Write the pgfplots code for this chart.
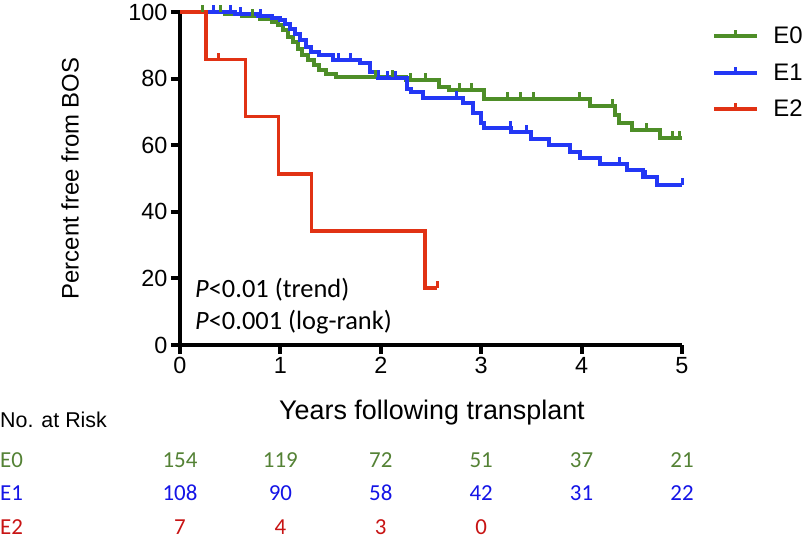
\documentclass[border=0pt]{standalone}
\usepackage{fontspec}
\setmainfont{Liberation Sans}
\newfontfamily\calibri{Carlito}
\usepackage{pgfplots}
\pgfplotsset{compat=1.18}
\definecolor{cE0}{RGB}{78,142,40}
\definecolor{cE1}{RGB}{35,55,245}
\definecolor{cE2}{RGB}{225,50,20}
\definecolor{tE0}{RGB}{84,130,53}
\definecolor{tE1}{RGB}{20,20,230}
\definecolor{tE2}{RGB}{200,20,20}
\pgfdeclareplotmark{cens}{\pgfpathmoveto{\pgfpointorigin}\pgfpathlineto{\pgfpoint{0pt}{7bp}}\pgfusepathqstroke}
\begin{document}
\begin{tikzpicture}
\path[use as bounding box] (0,0) rectangle (810bp,544bp);
\begin{axis}[
 at={(180bp,199bp)}, anchor=south west,
 scale only axis, width=502bp, height=333bp,
 xmin=0, xmax=5, ymin=0, ymax=100,
 axis x line=bottom, axis y line=left,
 axis line style={-, line width=4.5bp},
 xtick={0,1,2,3,4,5}, ytick={0,20,40,60,80,100},
 tick align=outside, major tick length=9bp,
 every tick/.style={black, line width=4bp},
 tick label style={font=\fontsize{23.5}{27}\selectfont},
 /pgf/number format/assume math mode=true,
 xlabel={Years following transplant},
 ylabel={Percent free from BOS},
 xlabel style={font=\fontsize{27}{32}\selectfont, at={(axis description cs:0.502,-0.2042)}, anchor=center},
 ylabel style={font=\fontsize{24}{28}\selectfont, at={(axis description cs:-0.219,0.5)}, anchor=center},
 clip=false,
 legend style={at={(1.06,0.961)}, anchor=north west, draw=none, fill=none,
   font=\fontsize{24}{29}\selectfont, row sep=14.5bp, inner sep=0pt},
 legend cell align=left,
 legend image code/.code={\draw[#1, line width=4bp] (0bp,0bp) -- (43bp,0bp); \draw[#1, line width=3bp] (21.5bp,0bp) -- (21.5bp,6bp); \path (55bp,0bp);},
]
\addplot[cE0, line width=4bp, const plot, mark=none] coordinates {
(0,100)(0.45,99.4)(0.62,98.7)(0.80,98.0)(0.92,97.0)(0.98,96.0)(1.03,94.5)(1.08,92.5)(1.13,91.0)(1.18,89.0)(1.22,87.0)(1.27,85.5)(1.33,84.0)(1.38,82.5)(1.45,81.5)(1.55,80.5)(2.25,79.6)(2.58,77.5)(2.68,76.6)(3.03,74.0)(4.08,71.8)(4.33,69.0)(4.37,66.8)(4.50,64.5)(4.78,62.3)(5,62.3)};
\addlegendentry{E0}
\addplot[cE1, line width=4bp, const plot, mark=none] coordinates {
(0,100)(0.55,99.5)(0.78,98.8)(0.92,98.2)(1.0,97.5)(1.05,96.5)(1.10,95.0)(1.15,93.5)(1.20,91.5)(1.25,89.5)(1.30,88.0)(1.38,87.0)(1.52,85.6)(1.79,84.6)(1.89,82.0)(1.97,80.2)(2.26,77.0)(2.30,76.0)(2.42,74.2)(2.82,72.7)(2.92,69.7)(3.00,66.7)(3.03,65.2)(3.30,64.0)(3.50,62.0)(3.68,60.0)(3.88,58.0)(3.98,56.2)(4.18,54.4)(4.45,52.5)(4.61,50.5)(4.75,48.0)(5,48.0)};
\addlegendentry{E1}
\addplot[cE2, line width=3.5bp, const plot, mark=none] coordinates {
(0,100)(0.26,85.7)(0.65,68.6)(0.98,51.4)(1.31,34.3)(2.44,17.1)(2.56,17.1)};
\addlegendentry{E2}
\addplot[cE0, only marks, mark=cens, mark options={line width=3bp}, forget plot] coordinates {
(0.22,100)(0.4,100)(0.6,99.4)(0.72,98.7)(1.95,80.5)(2.12,80.5)(2.3,79.6)(2.45,79.6)(2.78,76.6)(2.9,76.6)(3.26,74.0)(3.39,74.0)(3.52,74.0)(3.98,74.0)(4.31,71.8)(4.65,64.5)(4.91,62.3)(4.98,62.3)};
\addplot[cE1, only marks, mark=cens, mark options={line width=3bp}, forget plot] coordinates {
(0.33,100)(0.5,100)(0.6,99.5)(0.8,98.8)(1.58,85.6)(1.7,85.6)(2.07,80.2)(2.15,80.2)(2.75,74.2)(3.29,65.2)(3.45,64.0)(4.38,54.4)(4.64,50.5)(5,48)};
\addplot[cE2, only marks, mark=cens, mark options={line width=3bp}, forget plot] coordinates {
(0.38,85.7)(2.56,17.1)};
\end{axis}
\node[anchor=west, inner sep=0pt, font=\calibri\fontsize{26.5}{32}\selectfont] at (195bp,254bp) {\textit{P}<0.01 (trend)};
\node[anchor=west, inner sep=0pt, font=\calibri\fontsize{26.5}{32}\selectfont] at (195bp,222bp) {\textit{P}<0.001 (log-rank)};
\node[anchor=west, inner sep=0pt, font=\fontsize{21.5}{26}\selectfont] at (0bp,124bp) {No. at Risk};
\begin{scope}[every node/.style={inner sep=0pt, font=\calibri\fontsize{23}{28}\selectfont}]
\node[anchor=west, text=tE0] at (0bp,84bp) {E0};
\node[anchor=west, text=tE1] at (0bp,51bp) {E1};
\node[anchor=west, text=tE2] at (0bp,17bp) {E2};
\node[text=tE0] at (180bp,84bp) {154};
\node[text=tE0] at (280.4bp,84bp) {119};
\node[text=tE0] at (380.8bp,84bp) {72};
\node[text=tE0] at (481.2bp,84bp) {51};
\node[text=tE0] at (581.6bp,84bp) {37};
\node[text=tE0] at (682bp,84bp) {21};
\node[text=tE1] at (180bp,51bp) {108};
\node[text=tE1] at (280.4bp,51bp) {90};
\node[text=tE1] at (380.8bp,51bp) {58};
\node[text=tE1] at (481.2bp,51bp) {42};
\node[text=tE1] at (581.6bp,51bp) {31};
\node[text=tE1] at (682bp,51bp) {22};
\node[text=tE2] at (180bp,17bp) {7};
\node[text=tE2] at (280.4bp,17bp) {4};
\node[text=tE2] at (380.8bp,17bp) {3};
\node[text=tE2] at (481.2bp,17bp) {0};
\end{scope}
\end{tikzpicture}
\end{document}
